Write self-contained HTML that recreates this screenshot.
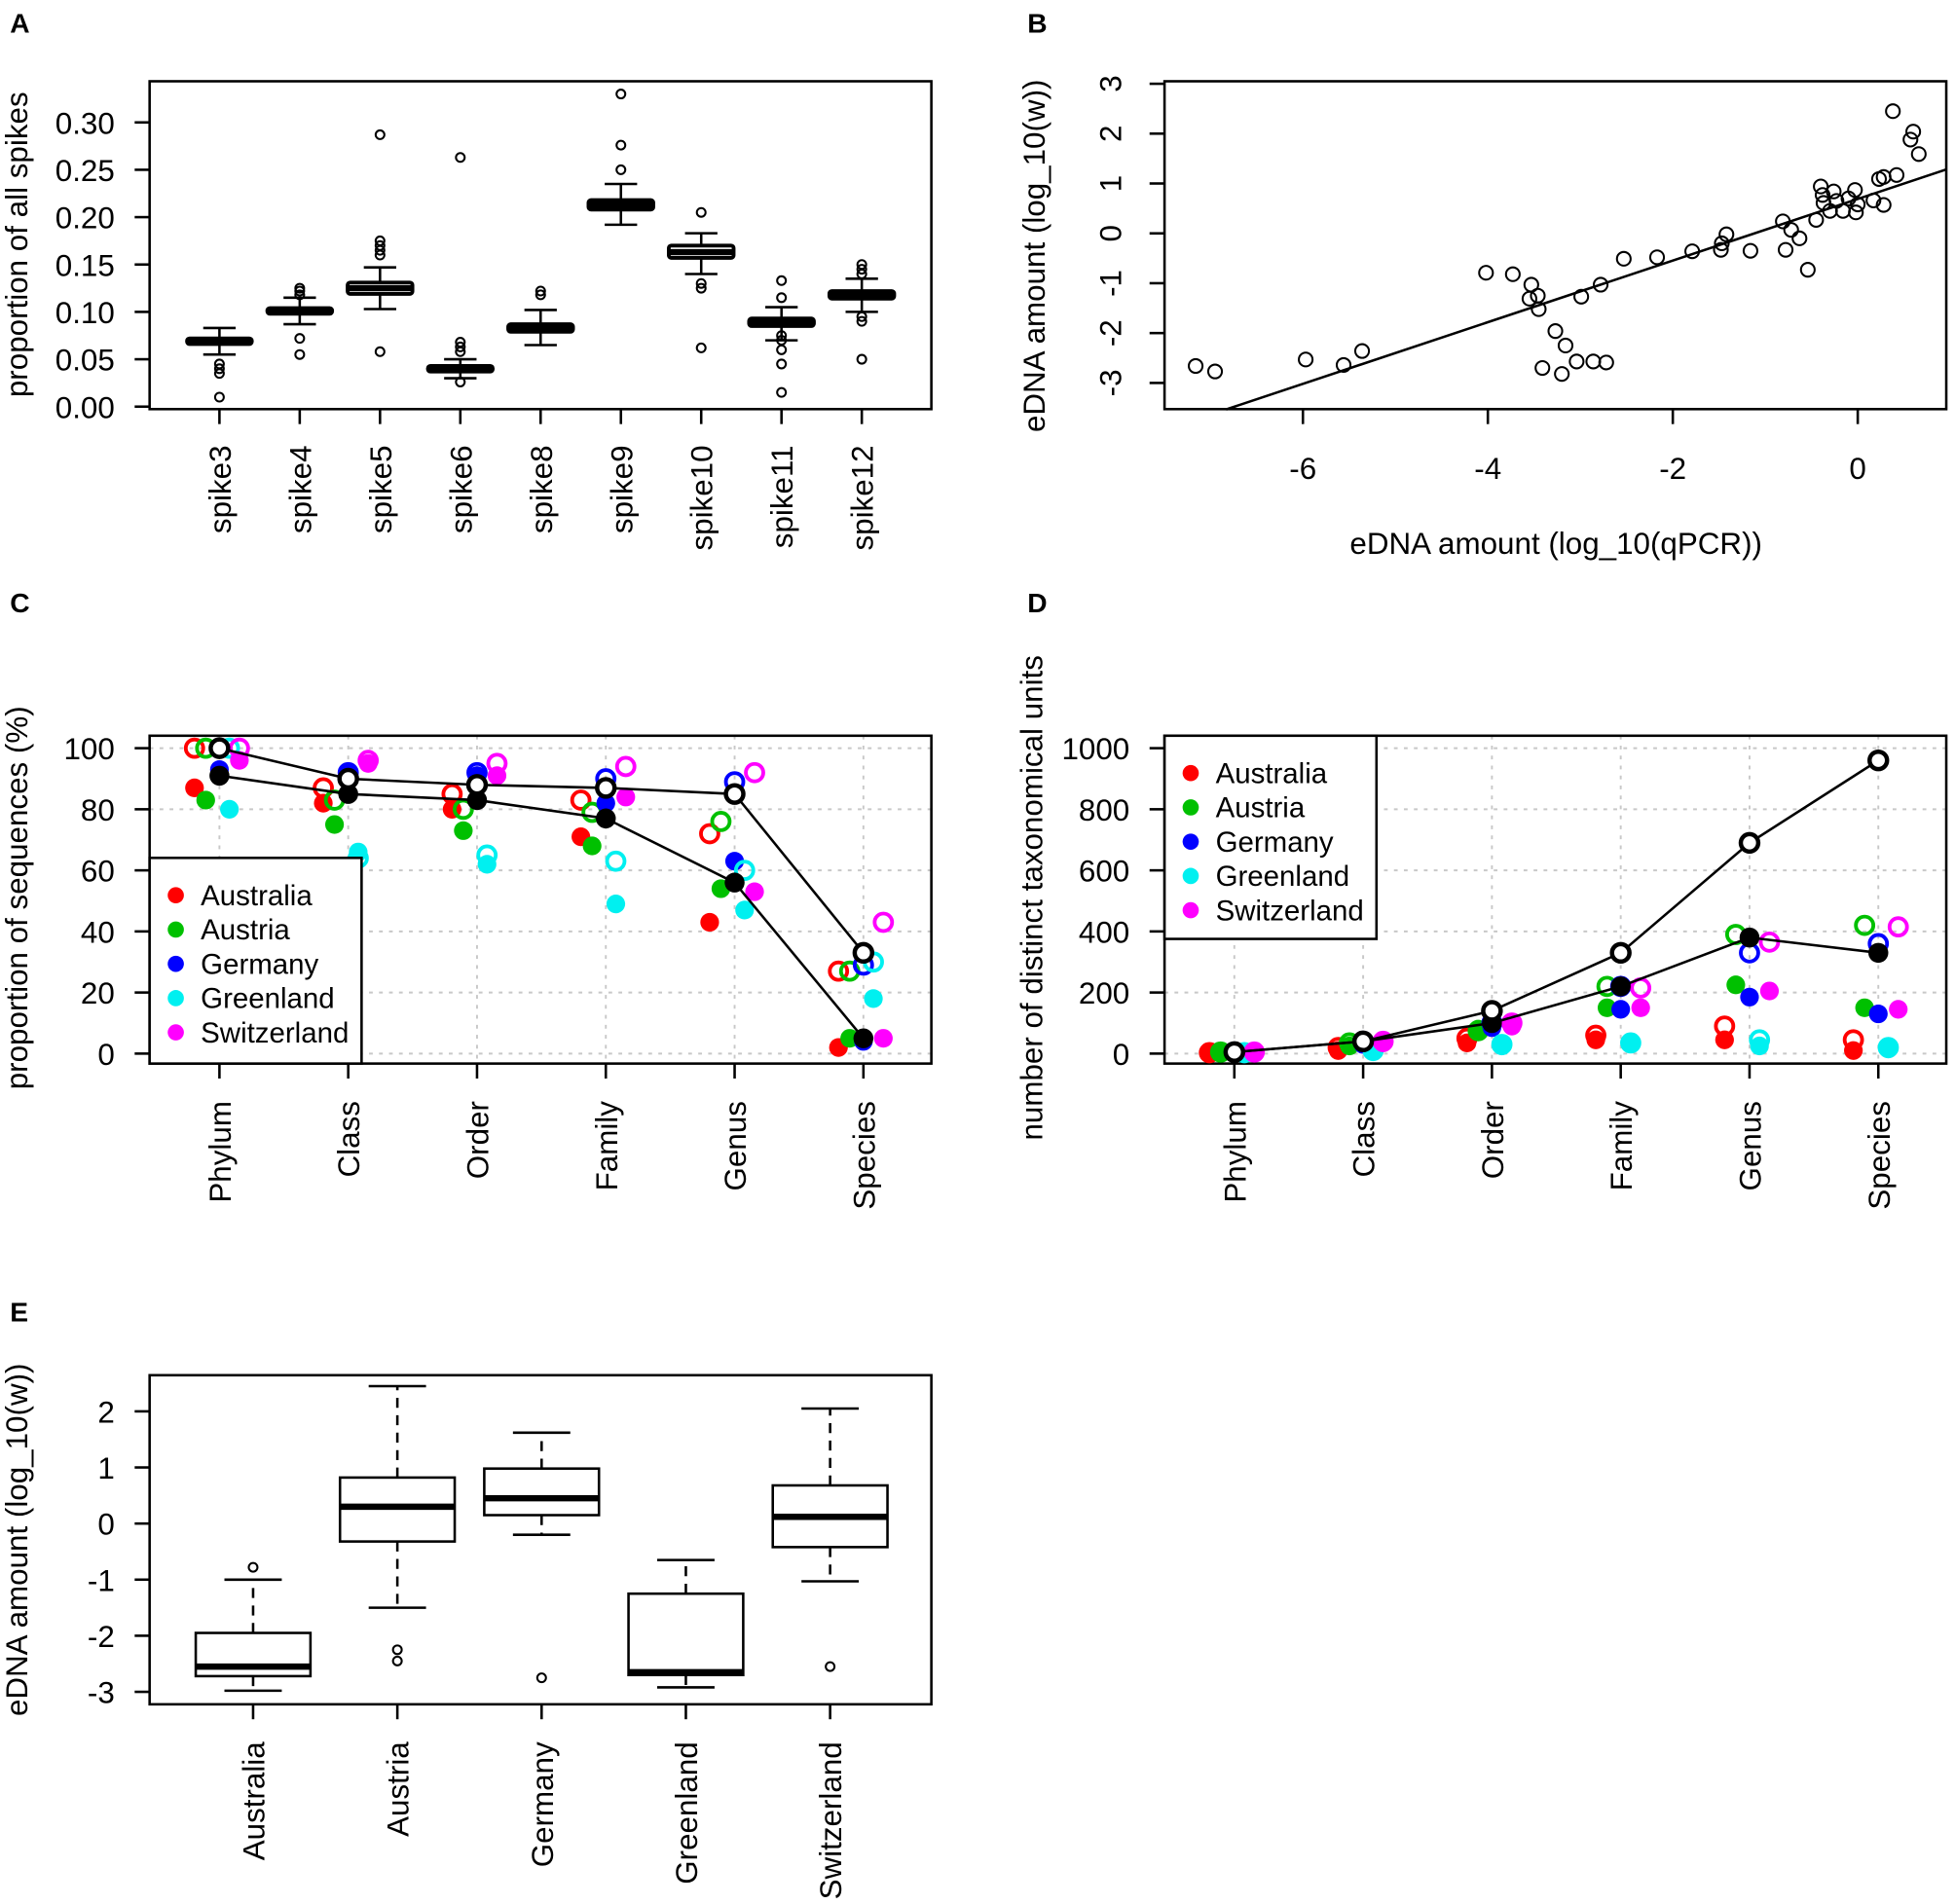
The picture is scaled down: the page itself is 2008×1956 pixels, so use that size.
<!DOCTYPE html>
<html><head><meta charset="utf-8"><style>
html,body{margin:0;padding:0;background:#fff}
svg{display:block}
text{font-family:"Liberation Sans",Arial,sans-serif;fill:#000}
</style></head><body>
<svg id="fig" xmlns="http://www.w3.org/2000/svg" width="2008" height="1956" viewBox="0 0 1568 1527">
<rect x="0" y="0" width="1568" height="1527" fill="#fff"/>
<text x="8" y="26" font-size="22" font-weight="bold">A</text>
<text x="824" y="26" font-size="22" font-weight="bold">B</text>
<text x="8" y="491" font-size="22" font-weight="bold">C</text>
<text x="824" y="491" font-size="22" font-weight="bold">D</text>
<text x="8" y="1060" font-size="22" font-weight="bold">E</text>
</svg>
<script>
// ---- Panel A data ----
const spikeCats = ["spike3","spike4","spike5","spike6","spike8","spike9","spike10","spike11","spike12"];
const spikeMed = [0.069,0.101,0.125,0.040,0.083,0.213,0.163,0.089,0.118];
const spikeQ1 = [0.066,0.098,0.119,0.037,0.079,0.208,0.157,0.085,0.114];
const spikeQ3 = [0.072,0.104,0.131,0.043,0.087,0.218,0.170,0.093,0.122];
const spikeLo = [0.055,0.087,0.103,0.030,0.065,0.192,0.140,0.070,0.100];
const spikeHi = [0.083,0.115,0.147,0.050,0.102,0.235,0.183,0.105,0.135];
const spikeOut = [[0.045,0.040,0.035,0.010],[0.118,0.122,0.125,0.072,0.055],[0.160,0.165,0.170,0.175,0.287,0.058],[0.058,0.063,0.068,0.026,0.263],[0.118,0.122],[0.250,0.276,0.330],[0.205,0.130,0.125,0.062],[0.115,0.133,0.075,0.070,0.060,0.045,0.015],[0.140,0.145,0.150,0.095,0.090,0.050]];
const spikeTicks = [0,0.05,0.10,0.15,0.20,0.25,0.30];
// ---- Panel B data ----
const qpcrX = [-7.16,-6.95,-5.97,-5.56,-5.36,-4.02,-3.73,-3.53,-3.55,-3.46,-3.45,-3.27,-3.16,-3.41,-3.20,-3.04,-2.86,-2.72,-2.99,-2.78,-2.53,-2.17,-1.79,-1.48,-1.47,-1.42,-1.16,-0.81,-0.72,-0.63,-0.78,-0.54,-0.45,-0.40,-0.38,-0.37,-0.30,-0.26,-0.23,-0.16,-0.10,-0.03,-0.02,0.00,0.17,0.23,0.28,0.42,0.28,0.38,0.60,0.57,0.66];
const wY = [-2.66,-2.77,-2.53,-2.64,-2.36,-0.79,-0.82,-1.03,-1.31,-1.25,-1.52,-1.96,-2.25,-2.70,-2.82,-2.57,-2.57,-2.59,-1.27,-1.03,-0.51,-0.48,-0.36,-0.33,-0.20,-0.02,-0.35,0.24,0.07,-0.10,-0.33,-0.73,0.27,0.94,0.77,0.61,0.45,0.84,0.65,0.45,0.70,0.87,0.42,0.58,0.66,1.09,1.13,1.17,0.57,2.45,2.04,1.88,1.59];
const fitSlope = 0.618, fitIntercept = 0.69;
const bXTicks = [-6,-4,-2,0];
const bYTicks = [-3,-2,-1,0,1,2,3];
// ---- Panel C/D data ----
const ranks = ["Phylum","Class","Order","Family","Genus","Species"];
const countries = ["Australia","Austria","Germany","Greenland","Switzerland"];
const countryColors = ["#ff0000","#00c000","#0000ff","#00f0f0","#ff00ff"];
const cFilled = [[87,82,80,71,43,2],[83,75,73,68,54,5],[93,92,91,82,63,4],[80,66,62,49,47,18],[96,95,91,84,53,5]];
const cOpen = [[100,87,85,83,72,27],[100,83,80,79,76,27],[100,92,92,90,89,29],[100,64,65,63,60,30],[100,96,95,94,92,43]];
const cAllOpen = [100,90,88,87,85,33];
const cAllFilled = [91,85,83,77,56,5];
const cTicks = [0,20,40,60,80,100];
const dFilled = [[2,10,35,45,45,10],[3,25,80,150,225,150],[3,30,85,145,185,130],[2,10,25,35,25,15],[3,35,90,150,205,145]];
const dOpen = [[3,20,50,60,90,45],[5,35,75,220,390,420],[5,40,100,220,330,360],[3,10,30,35,45,20],[5,40,100,215,365,415]];
const dAllOpen = [5,40,140,330,690,960];
const dAllFilled = [5,40,100,220,380,330];
const dTicks = [0,200,400,600,800,1000];
// ---- Panel E data ----
const eCats = ["Australia","Austria","Germany","Greenland","Switzerland"];
const eMed = [-2.55,0.30,0.45,-2.65,0.12];
const eQ1 = [-2.72,-0.32,0.15,-2.70,-0.42];
const eQ3 = [-1.95,0.82,0.98,-1.25,0.68];
const eLo = [-2.98,-1.50,-0.20,-2.92,-1.03];
const eHi = [-1.00,2.45,1.62,-0.65,2.05];
const eOut = [[-0.78],[-2.25,-2.45],[-2.75],[],[-2.55]];
const eTicks = [-3,-2,-1,0,1,2];

const FS = 24.5;
const svg = document.getElementById('fig');
const NS = 'http://www.w3.org/2000/svg';
function mk(tag, a, parent){ const e=document.createElementNS(NS,tag); for(const k in a) e.setAttribute(k,a[k]); (parent||svg).appendChild(e); return e; }
function txt(s, a, parent){ const e=mk('text',a,parent); e.textContent=s; return e; }
function lin(d0,d1,r0,r1){ return v => r0 + (v-d0)*(r1-r0)/(d1-d0); }

function frame(name){
  const g=mk('g',{});
  
  
  return g;
}
function box(g,x0,y0,x1,y1){
  const r=mk('rect',{x:x0,y:y0,width:x1-x0,height:y1-y0,fill:'none',stroke:'#000','stroke-width':2},g);
  
  
}
function yAxisH(g,ticks,ys,xAxis,fmt){
  ticks.forEach(t=>{
    const y=ys(t);
    const l=mk('line',{x1:xAxis-12,x2:xAxis,y1:y,y2:y,stroke:'#000','stroke-width':2},g);
    
    
    const tx=txt(fmt(t),{x:xAxis-28,y:y+9,'font-size':FS,'text-anchor':'end'},g);
    
    
  });
}
function xCatAxis(g,cats,xs,yAxis,labelEnd){
  cats.forEach((c,i)=>{
    const x=xs(i);
    const l=mk('line',{x1:x,x2:x,y1:yAxis,y2:yAxis+12,stroke:'#000','stroke-width':2},g);
    
    
    const tx=txt(c,{x:x+9,y:labelEnd,'font-size':FS,'text-anchor':'end',transform:`rotate(-90 ${x+9} ${labelEnd})`},g);
    
    
  });
}
function yTitle(g,s,x,y){
  const t=txt(s,{x:x,y:y,'font-size':FS,'text-anchor':'middle',transform:`rotate(-90 ${x} ${y})`},g);
  
  
}
function circ(g,x,y,r,fill,stroke,sw){
  return mk('circle',{cx:x,cy:y,r:r,fill:fill,stroke:stroke,'stroke-width':sw},g);
}

// ===== Panel A =====
(function(){
  const g=frame('panel-a-spike-boxplot');
  const xs=i=>176+i*64.4, ys=lin(0,0.30,326,98);
  box(g,120,65,747,328);
  yAxisH(g,spikeTicks,ys,120,v=>v.toFixed(2));
  xCatAxis(g,spikeCats,xs,328,357);
  yTitle(g,'proportion of all spikes',22,196);
  spikeCats.forEach((c,i)=>{
    const x=xs(i), hw=26, cw=13;
    const w1=mk('line',{x1:x,x2:x,y1:ys(spikeLo[i]),y2:ys(spikeHi[i]),stroke:'#000','stroke-width':2},g);
    
    
    [spikeLo[i],spikeHi[i]].forEach(v=>{
      const cap=mk('line',{x1:x-cw,x2:x+cw,y1:ys(v),y2:ys(v),stroke:'#000','stroke-width':2},g);
      
      
    });
    const b=mk('rect',{x:x-hw,y:ys(spikeQ3[i]),width:2*hw,height:ys(spikeQ1[i])-ys(spikeQ3[i]),fill:'#fff',stroke:'#000','stroke-width':3,rx:2},g);
    
    
    const m=mk('line',{x1:x-hw,x2:x+hw,y1:ys(spikeMed[i]),y2:ys(spikeMed[i]),stroke:'#000','stroke-width':5},g);
    
    
    spikeOut[i].forEach(v=>{
      const o=circ(g,x,ys(v),3.5,'none','#000',1.6);
      
      
    });
  });
})();

// ===== Panel B =====
(function(){
  const g=frame('panel-b-scatter');
  const xs=lin(-6,0,1045,1490), ys=lin(0,1,187,147);
  box(g,934,65,1561,328);
  bXTicks.forEach(t=>{
    const l=mk('line',{x1:xs(t),x2:xs(t),y1:328,y2:340,stroke:'#000','stroke-width':2},g);
    
    
    const tx=txt(t<0?'-'+Math.abs(t):String(t),{x:xs(t),y:384,'font-size':FS,'text-anchor':'middle'},g);
    
    
  });
  bYTicks.forEach(t=>{
    const l=mk('line',{x1:922,x2:934,y1:ys(t),y2:ys(t),stroke:'#000','stroke-width':2},g);
    
    
    const tx=txt(t<0?'-'+Math.abs(t):String(t),{x:899,y:ys(t),'font-size':FS,'text-anchor':'middle',transform:`rotate(-90 899 ${ys(t)})`},g);
    
    
  });
  const xt=txt('eDNA amount (log_10(qPCR))',{x:1248,y:444,'font-size':FS,'text-anchor':'middle'},g);
  
  
  yTitle(g,'eDNA amount (log_10(w))',838,205);
  const xa=-6.83, xb=0.95;
  const fl=mk('line',{x1:xs(xa),y1:ys(fitIntercept+fitSlope*xa),x2:xs(xb),y2:ys(fitIntercept+fitSlope*xb),stroke:'#000','stroke-width':2},g);
  
  
  qpcrX.forEach((v,i)=>{
    const p=circ(g,xs(v),ys(wY[i]),5.5,'none','#000',1.6);
    
    
  });
})();

// ===== Panels C & D =====
function rankPanel(name,x0,filled,open,allOpen,allFilled,ticks,ymax,title,titleX,legendBox){
  const g=frame(name);
  const x1=x0+627, y0=590, y1=853;
  const xs=i=>x0+56+i*103.3, ys=lin(0,ymax,845,600);
  ticks.forEach(t=>{
    const l=mk('line',{x1:x0,x2:x1,y1:ys(t),y2:ys(t),stroke:'#c8c8c8','stroke-width':1.5,'stroke-dasharray':'3,5'},g);
    
    
  });
  ranks.forEach((r,i)=>{
    const l=mk('line',{x1:xs(i),x2:xs(i),y1:y0,y2:y1,stroke:'#c8c8c8','stroke-width':1.5,'stroke-dasharray':'3,5'},g);
    
    
  });
  box(g,x0,y0,x1,y1);
  yAxisH(g,ticks,ys,x0,v=>String(v));
  xCatAxis(g,ranks,xs,y1,883);
  yTitle(g,title,titleX,720);
  const offs=[-20,-11,0,8,16];
  countries.forEach((c,k)=>{
    ranks.forEach((r,i)=>{
      const p=circ(g,xs(i)+offs[k],ys(filled[k][i]),7.5,countryColors[k],'none',0);
      
      
      const o=circ(g,xs(i)+offs[k],ys(open[k][i]),7,'none',countryColors[k],3);
      
      
    });
  });
  const pOpen=ranks.map((r,i)=>xs(i)+','+ys(allOpen[i])).join(' ');
  const pFill=ranks.map((r,i)=>xs(i)+','+ys(allFilled[i])).join(' ');
  const l1=mk('polyline',{points:pOpen,fill:'none',stroke:'#000','stroke-width':2},g);
  
  
  const l2=mk('polyline',{points:pFill,fill:'none',stroke:'#000','stroke-width':2},g);
  
  
  ranks.forEach((r,i)=>{
    const a=circ(g,xs(i),ys(allFilled[i]),8,'#000','none',0);
    
    
    const b=circ(g,xs(i),ys(allOpen[i]),7,'#fff','#000',3.5);
    
    
  });
  const [lx,ly,lw,lh]=legendBox;
  const lg=mk('g',{},g);
  
  
  mk('rect',{x:lx,y:ly,width:lw,height:lh,fill:'#fff',stroke:'#000','stroke-width':2},lg);
  countries.forEach((c,k)=>{
    const yy=ly+31+k*27.5;
    const e=mk('g',{},lg);
    
    
    circ(e,lx+21,yy-1,6.5,countryColors[k],'none',0);
    txt(c,{x:lx+41,y:yy+7,'font-size':23},e);
  });
}
rankPanel('panel-c-proportion',120,cFilled,cOpen,cAllOpen,cAllFilled,cTicks,100,'proportion of sequences (%)',22,[120,688,170,165]);
rankPanel('panel-d-taxa-count',934,dFilled,dOpen,dAllOpen,dAllFilled,dTicks,1000,'number of distinct taxonomical units',836,[934,590,170,163]);

// ===== Panel E =====
(function(){
  const g=frame('panel-e-country-boxplot');
  const xs=i=>203+i*115.7, ys=lin(0,2,1222,1132);
  box(g,120,1103,747,1367);
  yAxisH(g,eTicks,ys,120,v=>v<0?'-'+Math.abs(v):String(v));
  xCatAxis(g,eCats,xs,1367,1397);
  yTitle(g,'eDNA amount (log_10(w))',22,1235);
  eCats.forEach((c,i)=>{
    const x=xs(i), hw=46, cw=23;
    const w1=mk('line',{x1:x,x2:x,y1:ys(eQ3[i]),y2:ys(eHi[i]),stroke:'#000','stroke-width':2,'stroke-dasharray':'8,6'},g);
    
    
    const w2=mk('line',{x1:x,x2:x,y1:ys(eQ1[i]),y2:ys(eLo[i]),stroke:'#000','stroke-width':2,'stroke-dasharray':'8,6'},g);
    
    
    [eLo[i],eHi[i]].forEach(v=>{
      const cap=mk('line',{x1:x-cw,x2:x+cw,y1:ys(v),y2:ys(v),stroke:'#000','stroke-width':2},g);
      
      
    });
    const b=mk('rect',{x:x-hw,y:ys(eQ3[i]),width:2*hw,height:ys(eQ1[i])-ys(eQ3[i]),fill:'#fff',stroke:'#000','stroke-width':2},g);
    
    
    const m=mk('line',{x1:x-hw,x2:x+hw,y1:ys(eMed[i]),y2:ys(eMed[i]),stroke:'#000','stroke-width':5},g);
    
    
    eOut[i].forEach(v=>{
      const o=circ(g,x,ys(v),3.5,'none','#000',1.6);
      
      
    });
  });
})();
</script>
</body></html>
